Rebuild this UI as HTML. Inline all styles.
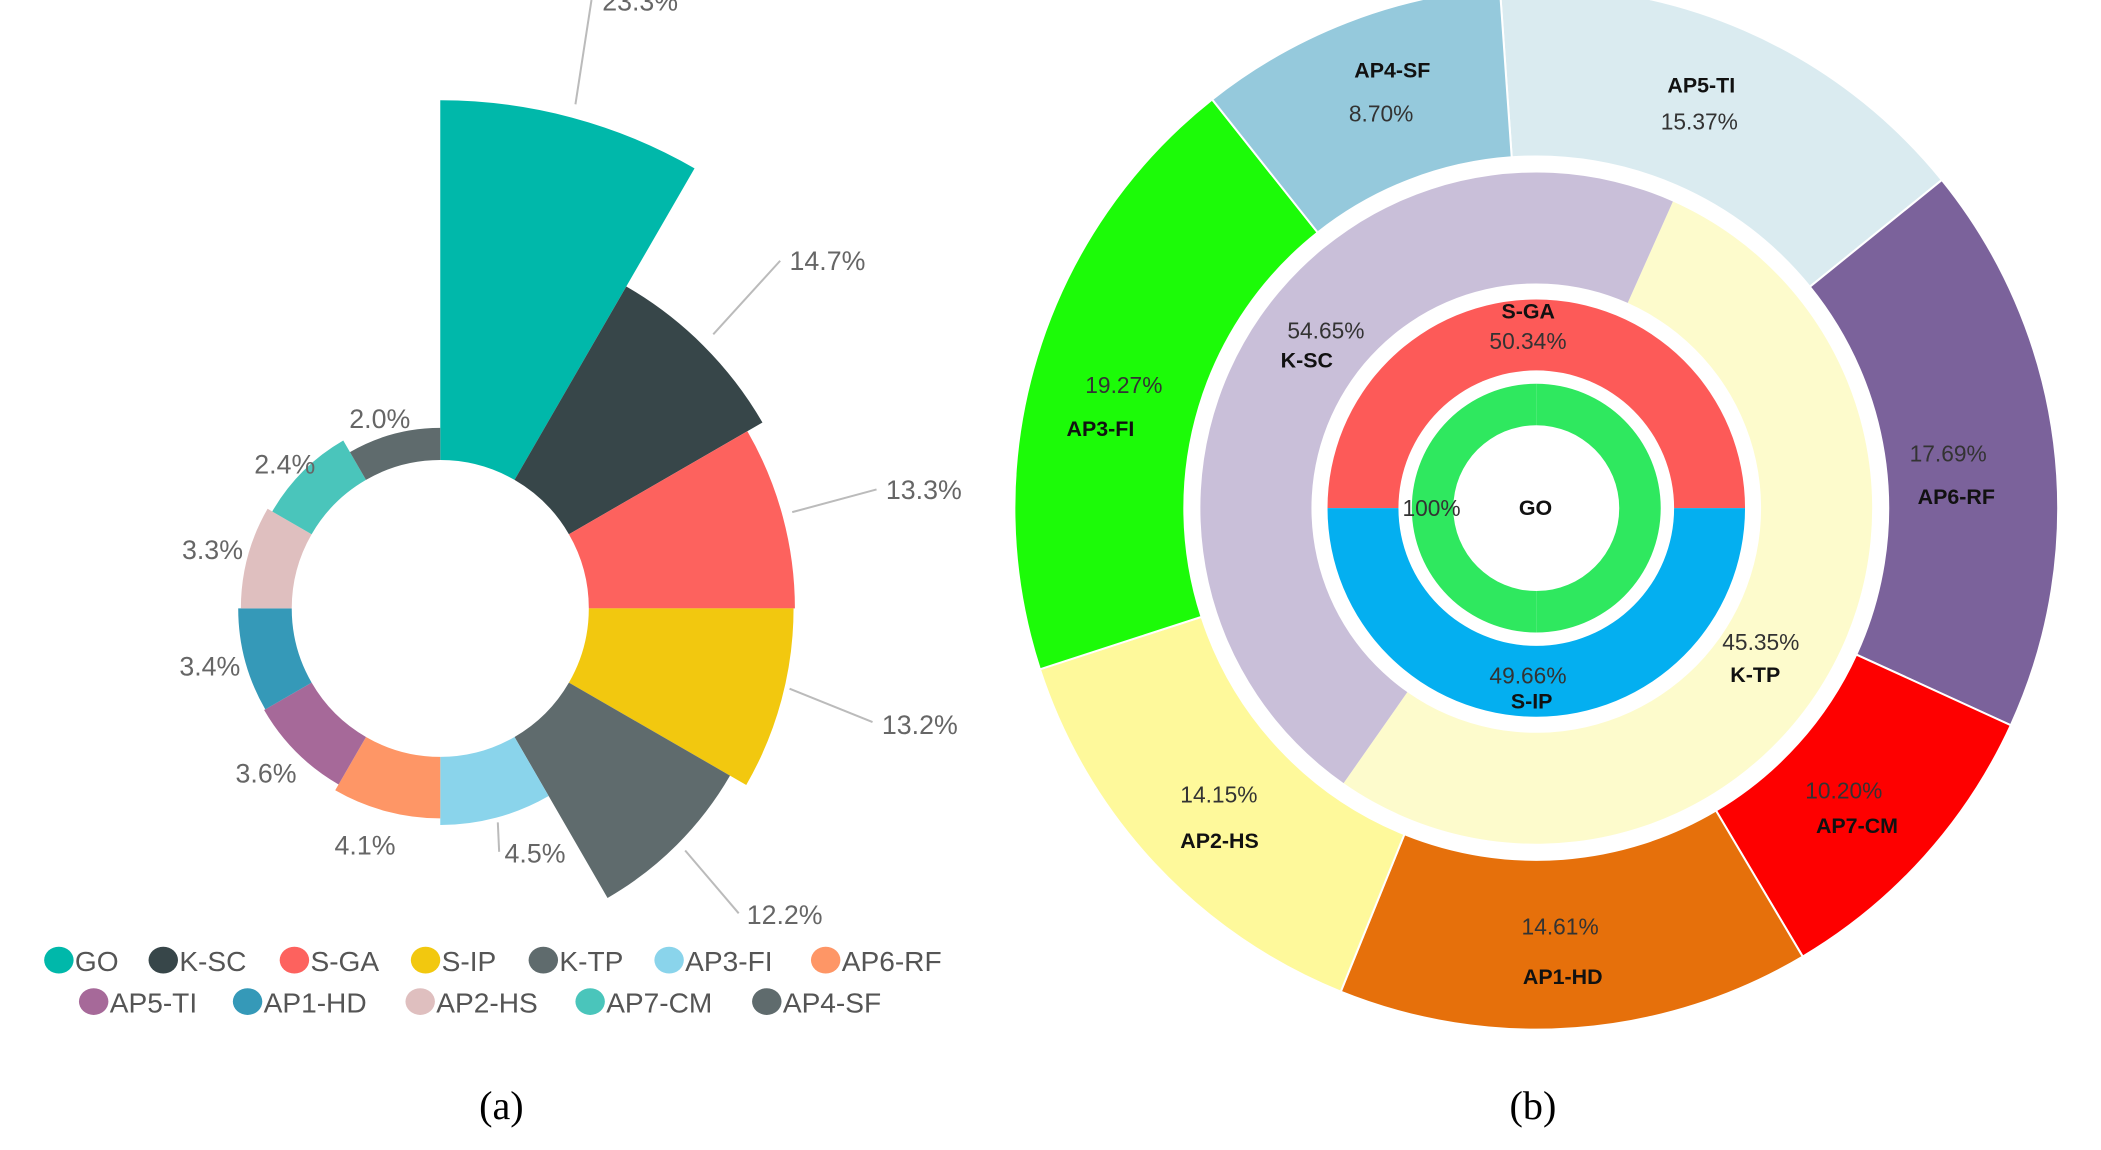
<!DOCTYPE html>
<html><head><meta charset="utf-8"><style>
html,body{margin:0;padding:0;background:#fff;}
svg{display:block}
.lb{font-family:"Liberation Sans",sans-serif;font-size:20px;fill:#666}
.lg{font-family:"Liberation Sans",sans-serif;font-size:21px;fill:#555}
.nm{font-family:"Liberation Sans",sans-serif;font-size:16px;font-weight:bold;fill:#111}
.pc{font-family:"Liberation Sans",sans-serif;font-size:17px;fill:#333}
.cap{font-family:"Liberation Serif",serif;font-size:30px;fill:#000}
</style></head><body>
<svg id="s" width="2101" height="1150" viewBox="0 0 1570 860" preserveAspectRatio="none" xmlns="http://www.w3.org/2000/svg">
<g id="a"></g><g id="b"></g>
<g stroke="#bbb" stroke-width="1.5" fill="none">
<line x1="430" y1="78" x2="442" y2="0"/>
<line x1="533" y1="250" x2="583" y2="195"/>
<line x1="592" y1="383" x2="655" y2="366"/>
<line x1="590" y1="515" x2="652" y2="540"/>
<line x1="512" y1="636" x2="552" y2="683"/>
<line x1="372" y1="615" x2="373" y2="637"/>
</g>
<text class="lb" x="450" y="8">23.3%</text>
<text class="lb" x="590" y="202">14.7%</text>
<text class="lb" x="662" y="373">13.3%</text>
<text class="lb" x="659" y="549">13.2%</text>
<text class="lb" x="558" y="691">12.2%</text>
<text class="lb" x="377" y="645">4.5%</text>
<text class="lb" x="250" y="639">4.1%</text>
<text class="lb" x="176" y="585">3.6%</text>
<text class="lb" x="134" y="505">3.4%</text>
<text class="lb" x="136" y="418">3.3%</text>
<text class="lb" x="190" y="354">2.4%</text>
<text class="lb" x="261" y="320">2.0%</text>
<g id="leg"></g>
<text class="cap" x="358" y="837">(a)</text>
<text class="cap" x="1128" y="837">(b)</text>
<g>
<text class="nm" x="1012" y="58">AP4-SF</text><text class="pc" x="1008" y="91">8.70%</text>
<text class="nm" x="1246" y="69">AP5-TI</text><text class="pc" x="1241" y="97">15.37%</text>
<text class="pc" x="1427" y="345">17.69%</text><text class="nm" x="1433" y="377">AP6-RF</text>
<text class="pc" x="1349" y="597">10.20%</text><text class="nm" x="1357" y="623">AP7-CM</text>
<text class="pc" x="1137" y="699">14.61%</text><text class="nm" x="1138" y="736">AP1-HD</text>
<text class="pc" x="882" y="600">14.15%</text><text class="nm" x="882" y="634">AP2-HS</text>
<text class="pc" x="811" y="294">19.27%</text><text class="nm" x="797" y="326">AP3-FI</text>
<text class="pc" x="962" y="253">54.65%</text><text class="nm" x="957" y="275">K-SC</text>
<text class="pc" x="1287" y="486">45.35%</text><text class="nm" x="1293" y="510">K-TP</text>
<text class="nm" x="1122" y="238">S-GA</text><text class="pc" x="1113" y="261">50.34%</text>
<text class="pc" x="1113" y="511">49.66%</text><text class="nm" x="1129" y="530">S-IP</text>
<text class="pc" x="1048" y="386">100%</text><text class="nm" x="1135" y="385">GO</text>
</g>
</svg>
<script>
var NS="http://www.w3.org/2000/svg";
function arc(cx,cy,r0,r1,a0,a1){
 function p(r,a){a=a*Math.PI/180;return [cx+r*Math.sin(a),cy-r*Math.cos(a)];}
 var L=(a1-a0)>180?1:0;var A=p(r1,a0),B=p(r1,a1),C=p(r0,a1),D=p(r0,a0);
 return "M"+A+" A"+r1+","+r1+" 0 "+L+" 1 "+B+" L"+C+" A"+r0+","+r0+" 0 "+L+" 0 "+D+"Z";
}
function add(g,d,f,st){var e=document.createElementNS(NS,"path");e.setAttribute("d",d);e.setAttribute("fill",f);if(st){e.setAttribute("stroke",st);e.setAttribute("stroke-width","1.5");}document.getElementById(g).appendChild(e);}
var A=[["#00b8aa",380],["#374649",278],["#fd625e",265],["#f2c80f",264],["#5f6b6d",250],["#8ad4eb",162],["#fe9666",157],["#a66999",152],["#3599b8",151],["#dfbfbf",149],["#4ac5bb",145],["#5f6b6d",135]];
A.forEach(function(s,i){add("a",arc(329,455,111,s[1],i*30,(i+1)*30),s[0]);});
var cx=1148,cy=380;
var O=[[-4,51,"#daebf0"],[51,114.6,"#7b629b"],[114.6,149.3,"#fe0000"],[149.3,202,"#e6700b"],[202,252,"#fef99b"],[252,321.6,"#1cfb08"],[321.6,356,"#95c9dc"]];
O.forEach(function(s){add("b",arc(cx,cy,263,390,s[0],s[1]),s[2],"#fff");});
add("b",arc(cx,cy,168,251,24,215),"#fdfbcc");
add("b",arc(cx,cy,168,251,215,384),"#c9bfd9");
add("b",arc(cx,cy,103,156,270,450),"#fd5a58");
add("b",arc(cx,cy,103,156,90,270),"#04aff0");
add("b",arc(cx,cy,62,93,0,180),"#2fe85f");
add("b",arc(cx,cy,62,93,180,360),"#2fe85f");
var L=[["GO","#00b8aa",44,718],["K-SC","#374649",122,718],["S-GA","#fd625e",220,718],["S-IP","#f2c80f",318,718],["K-TP","#5f6b6d",406,718],["AP3-FI","#8ad4eb",500,718],["AP6-RF","#fe9666",617,718],
["AP5-TI","#a66999",70,749],["AP1-HD","#3599b8",185,749],["AP2-HS","#dfbfbf",314,749],["AP7-CM","#4ac5bb",441,749],["AP4-SF","#5f6b6d",573,749]];
var g=document.getElementById("leg");
L.forEach(function(l){var c=document.createElementNS(NS,"ellipse");c.setAttribute("cx",l[2]);c.setAttribute("cy",l[3]);c.setAttribute("rx",11);c.setAttribute("ry",10);c.setAttribute("fill",l[1]);g.appendChild(c);
var t=document.createElementNS(NS,"text");t.setAttribute("class","lg");t.setAttribute("x",l[2]+12);t.setAttribute("y",l[3]+8);t.textContent=l[0];g.appendChild(t);});
</script>
</body></html>
